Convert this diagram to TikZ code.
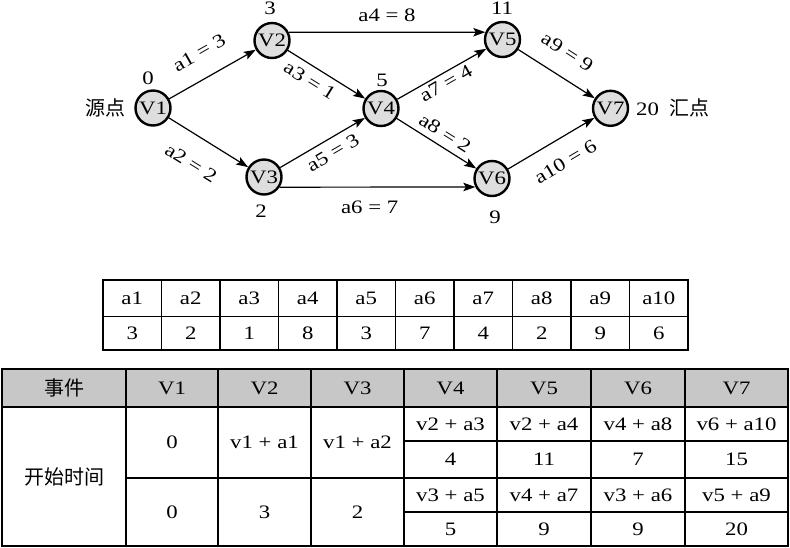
\documentclass[tikz,border=0pt]{standalone}
\usepackage{fontspec}
\setmainfont{Liberation Serif}[FakeStretch=1.2]
\newfontfamily\cjk{Noto Sans CJK SC}
\usetikzlibrary{arrows.meta}
\begin{document}
\begin{tikzpicture}[x=1pt,y=-1pt,
  vtx/.style={circle, draw, line width=2.4pt, fill=black!13, minimum size=35pt, inner sep=0pt, font=\fontsize{19}{22}\selectfont},
  arr/.style={line width=1.2pt, -{Stealth[length=12pt,width=8.5pt,inset=2.5pt]}},
  lbl/.style={sloped, inner sep=1pt, font=\fontsize{19}{22}\selectfont},
  txt/.style={inner sep=0pt, font=\fontsize{19}{22}\selectfont},
  cjkt/.style={inner sep=0pt, font=\cjk\fontsize{20}{24}\selectfont},
  grid/.style={line width=1.1pt}]
\useasboundingbox (0,0) rectangle (790,547);
% ---- graph ----
\node[vtx] (V1) at (153,108) {V1};
\node[vtx] (V2) at (272,40.5) {V2};
\node[vtx] (V3) at (264,177) {V3};
\node[vtx] (V4) at (381,108.5) {V4};
\node[vtx] (V5) at (502.5,39.5) {V5};
\node[vtx] (V6) at (492,178.5) {V6};
\node[vtx] (V7) at (610.5,108.3) {V7};
\node[txt] (t1) at (148,78) {0};
\node[txt] (t2) at (270,8) {3};
\node[txt] (t4) at (382,80) {5};
\node[txt] (t5) at (502,8) {11};
\node[txt] (t3) at (261,211) {2};
\node[txt] (t6) at (495,217) {9};
\node[cjkt] (src) at (105,108) {源点};
\node[txt, anchor=west] (snk) at (636,108) {20\hspace{10pt}{\cjk\fontsize{20}{24}\selectfont 汇点}};
\draw[arr] (V1) -- node[lbl, above=17.5pt, pos=0.49]{a1 = 3} (V2);
\draw[arr] (V1) -- node[lbl, below=19pt, pos=0.46]{a2 = 2} (V3);
\draw[arr] (V2) -- node[lbl, below=6pt, pos=0.38]{a3 = 1} (V4);
\draw[arr] (V2.26) -- node[lbl, above=9pt, pos=0.5]{a4 = 8} (V5.157);
\draw[arr] (V3) -- node[lbl, below=5.7pt, pos=0.54]{a5 = 3} (V4);
\draw[arr] (V3.-33) -- node[lbl, below=12pt, pos=0.46]{a6 = 7} (V6.207);
\draw[arr] (V4) -- node[lbl, below=2.4pt, pos=0.49]{a7 = 4} (V5);
\draw[arr] (V4) -- node[lbl, above=5pt, pos=0.52]{a8 = 2} (V6);
\draw[arr] (V5) -- node[lbl, above=16.6pt, pos=0.47]{a9 = 9} (V7);
\draw[arr] (V6) -- node[lbl, below=14.7pt, pos=0.53]{a10 = 6} (V7);
% ---- table 1 ----
\draw[grid] (103,280) rectangle (688,350);
\draw[grid] (103,316.5) -- (688,316.5);
\foreach \i in {1,...,9} \draw[grid] ({103+58.5*\i},280) -- ({103+58.5*\i},350);
\foreach \n/\v [count=\i] in {a1/3,a2/2,a3/1,a4/8,a5/3,a6/7,a7/4,a8/2,a9/9,a10/6} {
  \node[txt] (h\i) at ({103+58.5*\i-29.25},298) {\n};
  \node[txt] (w\i) at ({103+58.5*\i-29.25},333) {\v};
}
% ---- table 2 ----
\fill[black!22] (2,369) rectangle (788,407);
\draw[grid] (2,369) rectangle (788,546);
\draw[grid] (2,407) -- (788,407);
\draw[grid] (126,478) -- (788,478);
\draw[grid] (404,441) -- (788,441);
\draw[grid] (404,512) -- (788,512);
\foreach \x in {126,218,311,404,497,591,685} \draw[grid] (\x,369) -- (\x,546);
\node[cjkt] (e0) at (64,388) {事件};
\node[cjkt] (e1) at (64,477) {开始时间};
\foreach \c/\x in {1/172,2/264.5,3/357.5,4/450.5,5/544,6/638,7/736.5}
  \node[txt] (hd\c) at (\x,388) {V\c};
\node[txt] (c11) at (172,442) {0};
\node[txt] (c12) at (172,512) {0};
\node[txt] (c21) at (264.5,442) {v1 + a1};
\node[txt] (c22) at (264.5,512) {3};
\node[txt] (c31) at (357.5,442) {v1 + a2};
\node[txt] (c32) at (357.5,512) {2};
\foreach \c/\x/\a/\b/\p/\q in {4/450.5/v2 + a3/4/v3 + a5/5, 5/544/v2 + a4/11/v4 + a7/9, 6/638/v4 + a8/7/v3 + a6/9, 7/736.5/v6 + a10/15/v5 + a9/20} {
  \node[txt] (c\c a) at (\x,424) {\a};
  \node[txt] (c\c b) at (\x,459.5) {\b};
  \node[txt] (c\c c) at (\x,495) {\p};
  \node[txt] (c\c d) at (\x,529) {\q};
}
\end{tikzpicture}
\end{document}
